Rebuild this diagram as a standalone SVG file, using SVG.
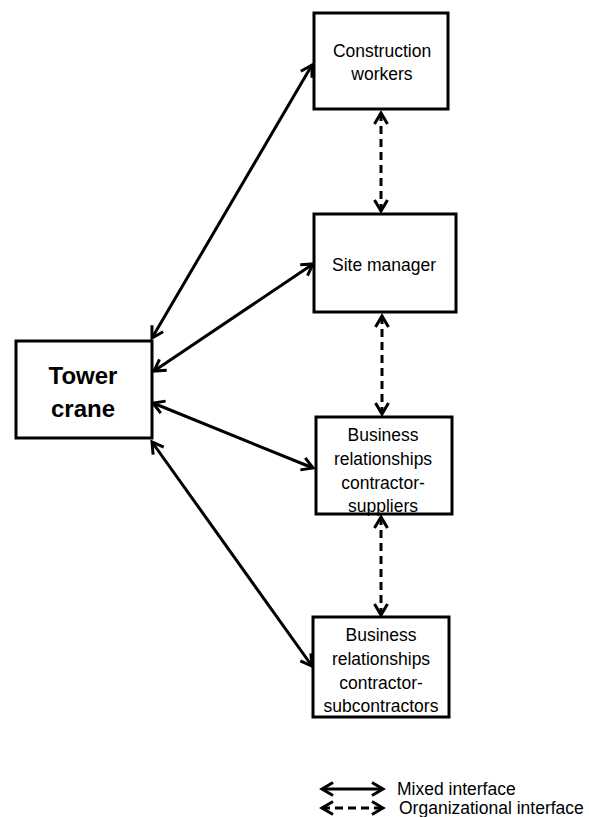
<svg xmlns="http://www.w3.org/2000/svg" width="589" height="817" viewBox="0 0 589 817">
  <style>
    .box { fill: #ffffff; stroke: #000000; stroke-width: 3; }
    .lbl { font-family: "Liberation Sans", Arial, sans-serif; font-size: 17.5px; fill: #000000; text-anchor: middle; }
    .big { font-family: "Liberation Sans", Arial, sans-serif; font-size: 24px; font-weight: bold; fill: #000000; text-anchor: middle; }
    .leg { font-family: "Liberation Sans", Arial, sans-serif; font-size: 17.5px; fill: #000000; }
    .solid { stroke: #000000; stroke-width: 3; fill: none; marker-start: url(#head); marker-end: url(#head); }
    .dash { stroke: #000000; stroke-width: 3; fill: none; stroke-dasharray: 8 5; marker-start: url(#head); marker-end: url(#head); }
  </style>
  <defs>
    <marker id="head" markerUnits="userSpaceOnUse" viewBox="-14 -9 16 18" markerWidth="16" markerHeight="18" refX="0" refY="0" orient="auto-start-reverse" overflow="visible">
      <path d="M -11 -6.5 L 0 0 L -11 6.5" fill="none" stroke="#000000" stroke-width="3" stroke-linejoin="miter"/>
    </marker>
  </defs>

  <rect width="589" height="817" fill="#ffffff"/>

  <!-- interfaces between the crane and the actors -->
  <g id="connectors">
    <line class="solid" x1="152" y1="338" x2="312" y2="65"/>
    <line class="solid" x1="154" y1="371" x2="313" y2="264"/>
    <line class="solid" x1="153" y1="403" x2="313" y2="468"/>
    <line class="solid" x1="152" y1="442" x2="312" y2="666"/>
    <line class="dash" x1="381" y1="113" x2="381" y2="211"/>
    <line class="dash" x1="382" y1="316" x2="382" y2="414"/>
    <line class="dash" x1="381" y1="517" x2="381" y2="615"/>
  </g>

  <g id="tower-crane">
    <rect class="box" x="16" y="341" width="136" height="97"/>
    <text class="big" x="83" y="384">Tower</text>
    <text class="big" x="83" y="417">crane</text>
  </g>

  <g id="construction-workers">
    <rect class="box" x="314" y="13" width="134" height="96"/>
    <text class="lbl" x="382" y="57">Construction</text>
    <text class="lbl" x="382" y="80">workers</text>
  </g>

  <g id="site-manager">
    <rect class="box" x="314" y="214" width="142" height="98"/>
    <text class="lbl" x="384" y="271">Site manager</text>
  </g>

  <g id="contractor-suppliers">
    <rect class="box" x="316" y="417" width="136" height="97"/>
    <text class="lbl" x="383" y="441">Business</text>
    <text class="lbl" x="383" y="465">relationships</text>
    <text class="lbl" x="383" y="489">contractor-</text>
    <text class="lbl" x="383" y="512">suppliers</text>
  </g>

  <g id="contractor-subcontractors">
    <rect class="box" x="313" y="617" width="136" height="100"/>
    <text class="lbl" x="381" y="641">Business</text>
    <text class="lbl" x="381" y="665">relationships</text>
    <text class="lbl" x="381" y="689">contractor-</text>
    <text class="lbl" x="381" y="712">subcontractors</text>
  </g>

  <g id="legend">
    <line class="solid" x1="322" y1="789" x2="383" y2="789"/>
    <text class="leg" x="397" y="795">Mixed interface</text>
    <line class="dash" x1="322" y1="808" x2="383" y2="808"/>
    <text class="leg" x="399" y="814">Organizational interface</text>
  </g>
</svg>
